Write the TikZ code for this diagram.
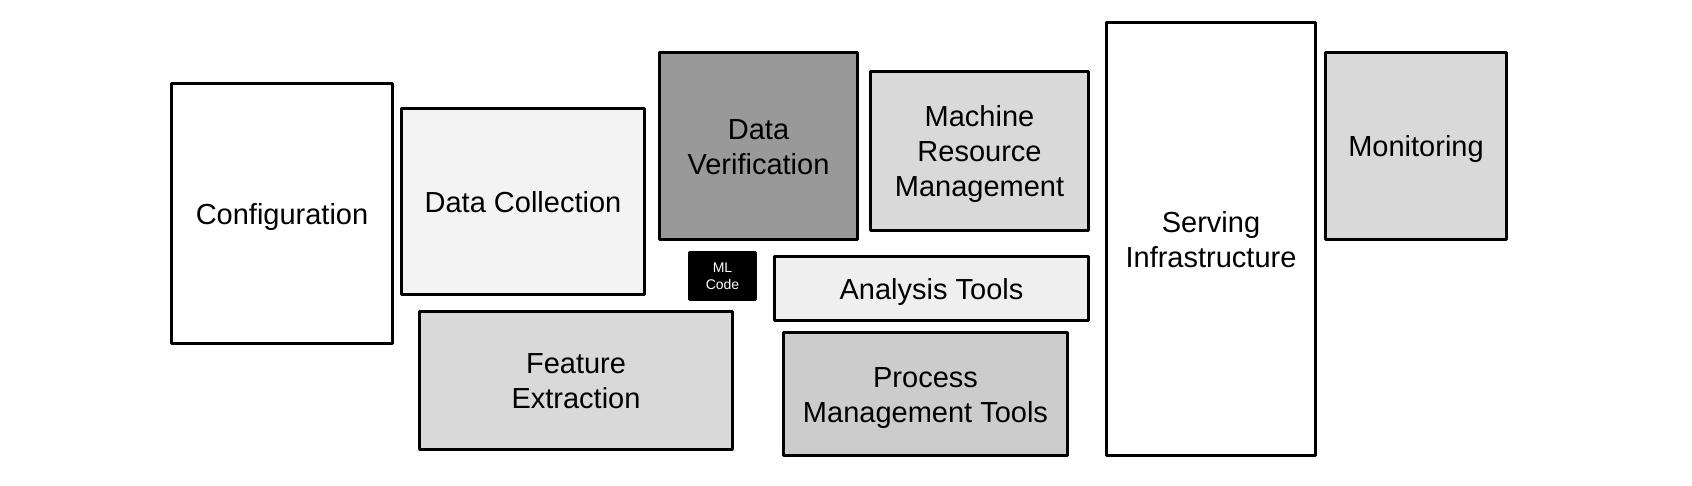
\documentclass[tikz,border=0pt]{standalone}
\usepackage{fontspec}
\setmainfont{Liberation Sans}
\usepackage{tikz}
\usetikzlibrary{positioning}
\definecolor{boxgray}{HTML}{D9D9D9}
\definecolor{darkgray}{HTML}{999999}
\definecolor{midgray}{HTML}{CCCCCC}
\definecolor{palegray}{HTML}{F3F3F3}
\definecolor{lightgray}{HTML}{EFEFEF}

\begin{document}
\begin{tikzpicture}[x=1pt, y=-1pt,
  block/.style={draw, line width=3pt, line join=round, inner sep=0pt, align=center, font=\fontsize{29}{35}\selectfont, text height=21.1pt, text depth=0pt},
  twoline/.style={text height=56.1pt},
  threeline/.style={text height=91.1pt},
  mlbox/.style={draw, fill=black, line width=3pt, line join=round, inner sep=0pt, align=center, text=white, font=\fontsize{14}{17}\selectfont, text height=27.2pt, text depth=0pt},
]
\useasboundingbox (0,0) rectangle (1692,485);

% Left column
\node[block, fill=white, minimum width=221, minimum height=260] (config) at (282,213.5) {Configuration};
\node[block, fill=palegray, minimum width=243, minimum height=186] (collect) at (523,201.5) {Data Collection};
\node[block, twoline, fill=boxgray, minimum width=313, minimum height=138] (feature) at (576,380.5) {Feature\\Extraction};

% Middle
\node[block, twoline, fill=darkgray, minimum width=198, minimum height=187] (verify) at (758.5,146) {Data\\Verification};
\node[mlbox, minimum width=66, minimum height=47] (mlcode) at (722.5,276) {ML\\Code};
\node[block, threeline, fill=boxgray, minimum width=218, minimum height=159] (resource) at (979.5,151) {Machine\\Resource\\Management};
\node[block, fill=lightgray, minimum width=314, minimum height=64] (analysis) at (931.5,288.5) {Analysis Tools};
\node[block, twoline, fill=midgray, minimum width=284, minimum height=123] (process) at (925.5,394) {Process\\Management Tools};

% Right column
\node[block, twoline, fill=white, minimum width=209, minimum height=433] (serving) at (1211,239) {Serving\\Infrastructure};
\node[block, fill=boxgray, minimum width=181, minimum height=187] (monitor) at (1416,146) {Monitoring};

\end{tikzpicture}
\end{document}
